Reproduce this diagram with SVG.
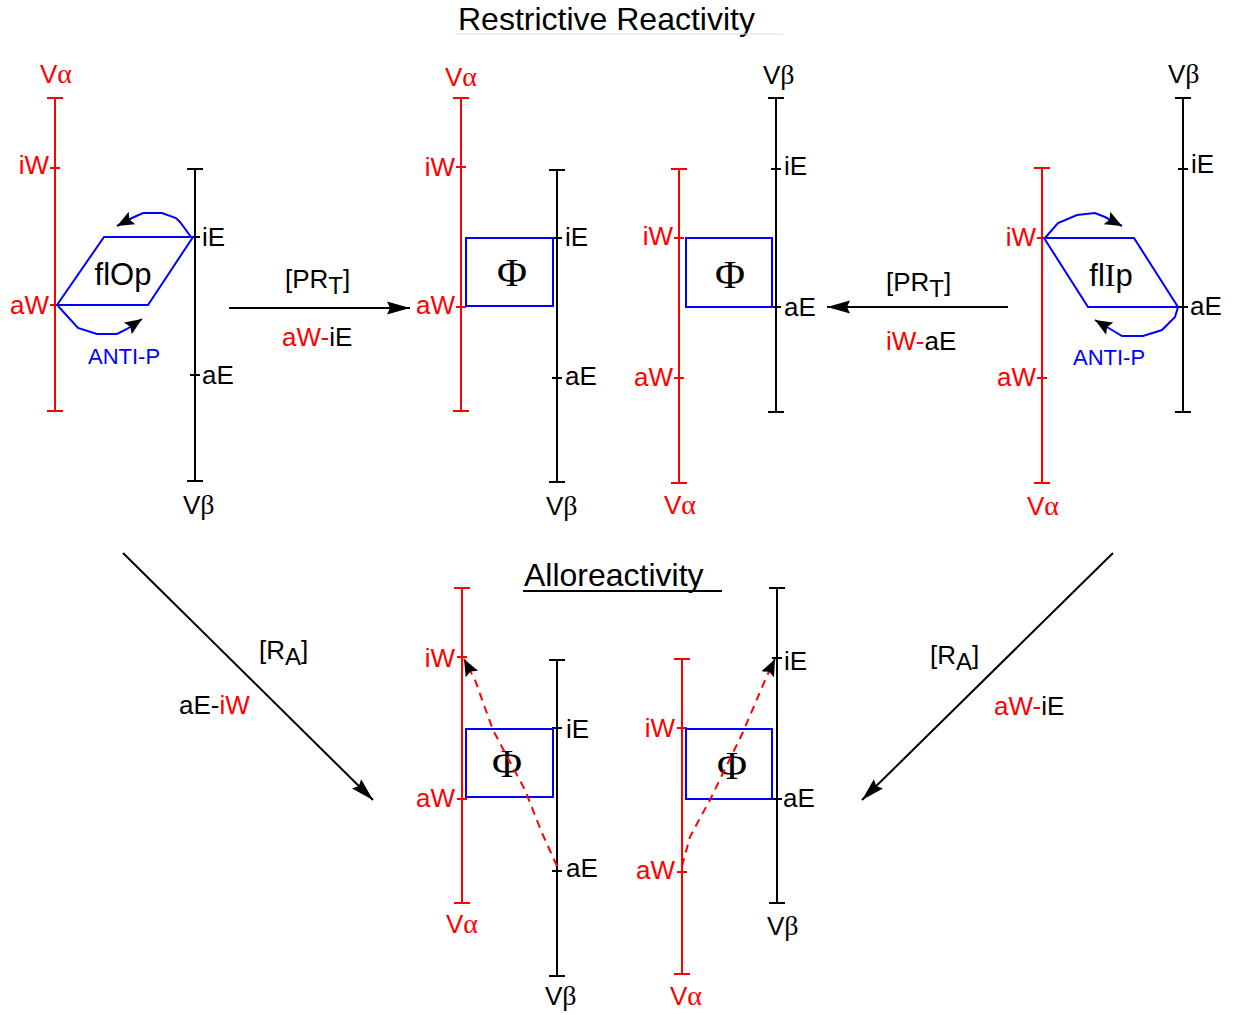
<svg xmlns="http://www.w3.org/2000/svg" width="1238" height="1015" viewBox="0 0 1238 1015">
<style>
text{font-family:"Liberation Sans",Arial,sans-serif}
.lb{font-size:26px}
.r{fill:#ff0000}
.k{fill:#000}
.b{fill:#0000ff}
.gk{font-family:"Liberation Serif","Times New Roman",serif;font-size:28px}
.ax-r{stroke:#ff0000;stroke-width:2;fill:none}
.ax-k{stroke:#000;stroke-width:2;fill:none}
.bl{stroke:#0000ff;stroke-width:2;fill:none}
.arr{stroke:#000;stroke-width:2;fill:none}
.dash{stroke:#ff0000;stroke-width:2;fill:none;stroke-dasharray:8 6}
.phi{font-family:"Liberation Serif","Times New Roman",serif;font-size:41px;text-anchor:middle}
.title{font-size:32px}
.br{font-size:26px}
.sub{font-size:24px}
</style>
<defs>
<marker id="ahL" markerUnits="userSpaceOnUse" viewBox="0 0 24 16" markerWidth="24" markerHeight="16" refX="23" refY="8" orient="auto">
<path d="M0,1.5 L23,8 L0,14.5 L3,8 Z" fill="#000"/>
</marker>
<marker id="ahS" markerUnits="userSpaceOnUse" viewBox="0 0 18 16" markerWidth="18" markerHeight="16" refX="17" refY="8" orient="auto">
<path d="M0,1 L17,8 L0,15 L3,8 Z" fill="#000"/>
</marker>
</defs>
<rect width="1238" height="1015" fill="#fff"/>

<g id="titles">
<text class="title k" x="458" y="30">Restrictive Reactivity</text>
<line x1="455" y1="34" x2="783" y2="34" stroke="#dcdcdc" stroke-width="1"/>
<text class="title k" x="524" y="586">Alloreactivity</text>
<line x1="523" y1="591" x2="722" y2="591" stroke="#000" stroke-width="2"/>
</g>

<g id="panel1">
<path class="ax-r" d="M55,98V411M47,98H63M47,411H63M50,168H60M50,305H60"/>
<path class="ax-k" d="M195,169V481M187,169H203M187,481H203M190,237H200M190,375H200"/>
<polygon class="bl" points="57,305 104,237 193,237 148,305"/>
<text class="r lb" x="40" y="83">V<tspan class="gk">α</tspan></text>
<text class="r lb" x="49" y="174" text-anchor="end">iW</text>
<text class="r lb" x="49" y="314" text-anchor="end">aW</text>
<text class="k lb" x="202" y="246">iE</text>
<text class="k lb" x="202" y="384">aE</text>
<text class="k lb" x="183" y="514">V<tspan class="gk">β</tspan></text>
<text class="k" x="123" y="285" font-size="31" text-anchor="middle">flOp</text>
<text class="b" x="88" y="364" font-size="22">ANTI-P</text>
</g>

<g id="panel2">
<path class="ax-r" d="M461,98V411M453,98H469M453,411H469M456,167H466M456,307H466"/>
<path class="ax-k" d="M557,170V482M549,170H565M549,482H565M552,238H562M552,378H562"/>
<rect class="bl" x="466" y="238" width="87" height="68"/>
<text class="phi k" x="512" y="286">Φ</text>
<text class="r lb" x="445" y="86">V<tspan class="gk">α</tspan></text>
<text class="r lb" x="455" y="176" text-anchor="end">iW</text>
<text class="r lb" x="455" y="314" text-anchor="end">aW</text>
<text class="k lb" x="565" y="246">iE</text>
<text class="k lb" x="565" y="385">aE</text>
<text class="k lb" x="546" y="515">V<tspan class="gk">β</tspan></text>
</g>

<g id="panel3">
<path class="ax-r" d="M679,169V483M671,169H687M671,483H687M674,238H684M674,378H684"/>
<path class="ax-k" d="M776,98V412M768,98H784M768,412H784M771,169H781M771,307H781"/>
<rect class="bl" x="686" y="238" width="86" height="69"/>
<text class="phi k" x="730" y="288">Φ</text>
<text class="k lb" x="763" y="84">V<tspan class="gk">β</tspan></text>
<text class="k lb" x="784" y="175">iE</text>
<text class="k lb" x="784" y="316">aE</text>
<text class="r lb" x="673" y="245" text-anchor="end">iW</text>
<text class="r lb" x="673" y="386" text-anchor="end">aW</text>
<text class="r lb" x="664" y="514">V<tspan class="gk">α</tspan></text>
</g>

<g id="panel4">
<path class="ax-r" d="M1042,168V483M1034,168H1050M1034,483H1050M1037,238H1047M1037,378H1047"/>
<path class="ax-k" d="M1183,98V412M1175,98H1191M1175,412H1191M1178,169H1188M1178,307H1188"/>
<polygon class="bl" points="1044,238 1134,238 1178,307 1088,307"/>
<text class="k lb" x="1168" y="83">V<tspan class="gk">β</tspan></text>
<text class="k lb" x="1191" y="173">iE</text>
<text class="k lb" x="1190" y="315">aE</text>
<text class="r lb" x="1036" y="246" text-anchor="end">iW</text>
<text class="r lb" x="1036" y="386" text-anchor="end">aW</text>
<text class="r lb" x="1027" y="515">V<tspan class="gk">α</tspan></text>
<text class="k" x="1111" y="286" font-size="31" text-anchor="middle">fl<tspan font-family="Liberation Serif,Times New Roman,serif" font-size="32">I</tspan>p</text>
<text class="b" x="1073" y="365" font-size="22">ANTI-P</text>
</g>

<g id="panel5">
<path class="ax-r" d="M462,588V903M454,588H470M454,903H470M457,657H467M457,799H467"/>
<path class="ax-k" d="M557,660V976M549,660H565M549,976H565M552,728H562M552,871H562"/>
<rect class="bl" x="466" y="729" width="87" height="68"/>
<text class="phi k" x="507" y="777">Φ</text>
<text class="r lb" x="455" y="667" text-anchor="end">iW</text>
<text class="r lb" x="455" y="807" text-anchor="end">aW</text>
<text class="k lb" x="566" y="738">iE</text>
<text class="k lb" x="566" y="877">aE</text>
<text class="r lb" x="446" y="933">V<tspan class="gk">α</tspan></text>
<text class="k lb" x="545" y="1005">V<tspan class="gk">β</tspan></text>
</g>

<g id="panel6">
<path class="ax-r" d="M682,659V974M674,659H690M674,974H690M677,728H687M677,872H687"/>
<path class="ax-k" d="M777,588V903M769,588H785M769,903H785M772,658H782M772,799H782"/>
<rect class="bl" x="686" y="729" width="86" height="70"/>
<text class="phi k" x="732" y="779">Φ</text>
<text class="r lb" x="675" y="737" text-anchor="end">iW</text>
<text class="r lb" x="675" y="879" text-anchor="end">aW</text>
<text class="k lb" x="784" y="670">iE</text>
<text class="k lb" x="783" y="807">aE</text>
<text class="k lb" x="767" y="935">V<tspan class="gk">β</tspan></text>
<text class="r lb" x="670" y="1005">V<tspan class="gk">α</tspan></text>
</g>

<g id="connectors">
<polyline class="bl" points="191,237 180,222 176,218 162,213 143,213 132,218 117,226" marker-end="url(#ahS)"/>
<polyline class="bl" points="58,306 78,328 97,334 117,334 127,329 142,319" marker-end="url(#ahS)"/>
<polyline class="bl" points="1045,238 1058,223 1077,215 1095,213 1105,217 1122,226" marker-end="url(#ahS)"/>
<polyline class="bl" points="1178,307 1175,317 1162,330 1143,336 1122,336 1112,330 1095,320" marker-end="url(#ahS)"/>
<line class="arr" x1="229" y1="308" x2="410" y2="308" marker-end="url(#ahL)"/>
<line class="arr" x1="1008" y1="307" x2="827" y2="307" marker-end="url(#ahL)"/>
<line class="arr" x1="123" y1="553" x2="373" y2="800" marker-end="url(#ahL)"/>
<line class="arr" x1="1113" y1="553" x2="862" y2="800" marker-end="url(#ahL)"/>
<polyline class="dash" points="557,866 542,833 525,790 510,762 493,730 475,680 464,659" marker-end="url(#ahS)"/>
<polyline class="dash" points="682,866 690,837 700,818 710,800 743,732 766,678 775,659" marker-end="url(#ahS)"/>
<text class="k br" x="285" y="288">[PR<tspan class="sub" dy="6">T</tspan><tspan dy="-6">]</tspan></text>
<text class="lb" x="282" y="346"><tspan class="r">aW-</tspan><tspan class="k">iE</tspan></text>
<text class="k br" x="886" y="291">[PR<tspan class="sub" dy="6">T</tspan><tspan dy="-6">]</tspan></text>
<text class="lb" x="886" y="350"><tspan class="r">iW-</tspan><tspan class="k">aE</tspan></text>
<text class="k br" x="259" y="659">[R<tspan class="sub" dy="6">A</tspan><tspan dy="-6">]</tspan></text>
<text class="lb" x="179" y="714"><tspan class="k">aE-</tspan><tspan class="r">iW</tspan></text>
<text class="k br" x="930" y="664">[R<tspan class="sub" dy="6">A</tspan><tspan dy="-6">]</tspan></text>
<text class="lb" x="994" y="715"><tspan class="r">aW-</tspan><tspan class="k">iE</tspan></text>
</g>
</svg>
